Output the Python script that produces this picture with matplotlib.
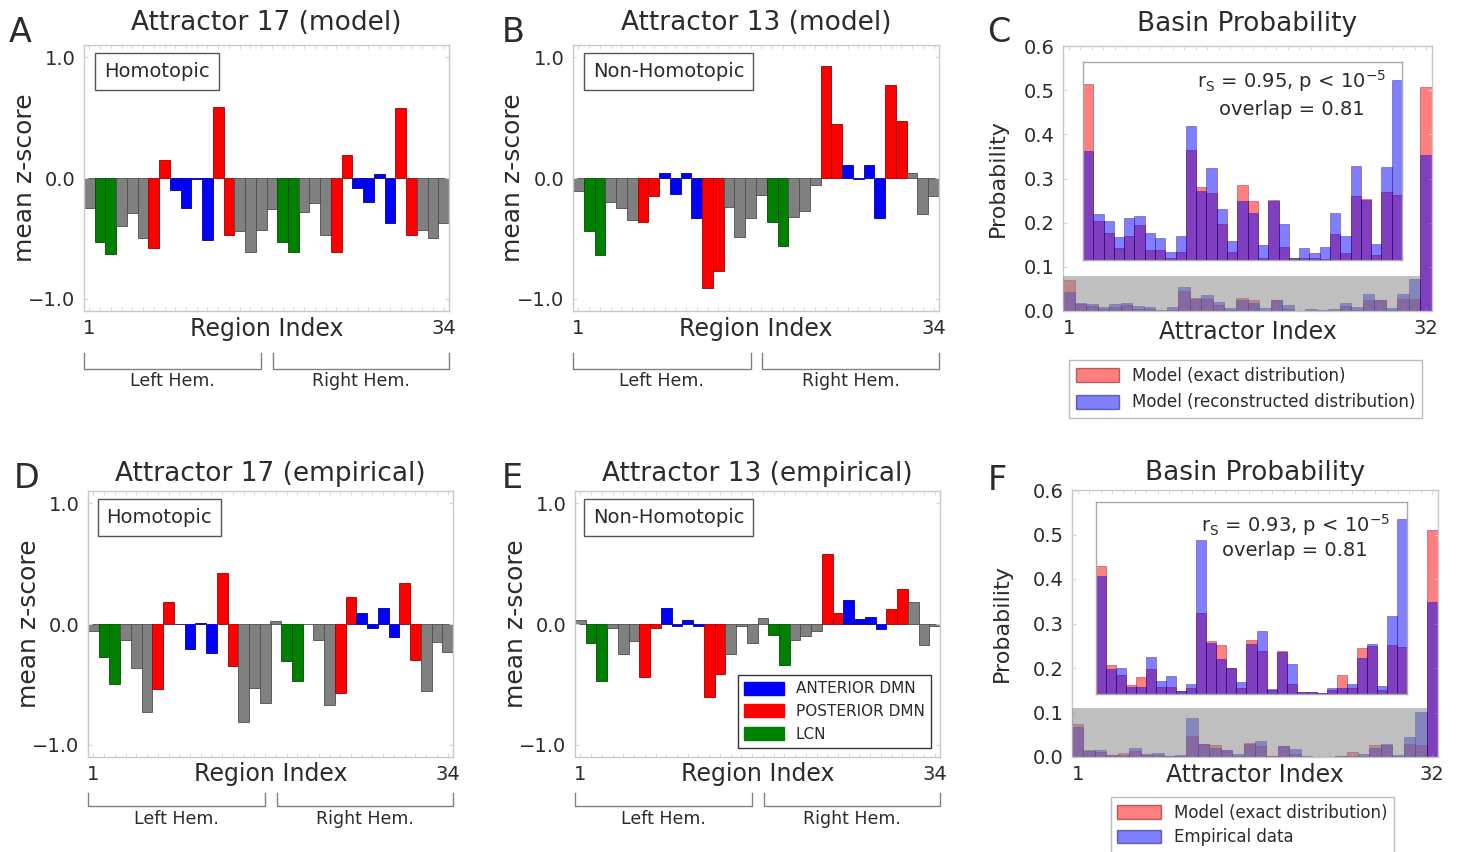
import matplotlib
matplotlib.use("Agg")
import matplotlib.pyplot as plt
import matplotlib.transforms as mtransforms
from matplotlib.patches import Patch, Rectangle
import numpy as np

# ---------------------------------------------------------------- data
# network membership of the 17 regions of one hemisphere (same order in both)
hemisphere_networks = ["OTHER", "LCN", "LCN", "OTHER", "OTHER", "OTHER",
                       "POSTERIOR DMN", "POSTERIOR DMN",
                       "ANTERIOR DMN", "ANTERIOR DMN", "ANTERIOR DMN", "ANTERIOR DMN",
                       "POSTERIOR DMN", "POSTERIOR DMN",
                       "OTHER", "OTHER", "OTHER"]
region_networks = hemisphere_networks + hemisphere_networks
network_colors = {"ANTERIOR DMN": "#0000ff", "POSTERIOR DMN": "#ff0000",
                  "LCN": "#008000", "OTHER": "#808080"}
legend_networks = ["ANTERIOR DMN", "POSTERIOR DMN", "LCN"]

attractor17_model = [-0.245, -0.53, -0.63, -0.40, -0.29, -0.50, -0.58, 0.15,
                     -0.10, -0.25, -0.005, -0.51, 0.59, -0.47, -0.44, -0.61,
                     -0.43, -0.26, -0.53, -0.61, -0.28, -0.21, -0.47, -0.61,
                     0.19, -0.08, -0.20, 0.03, -0.37, 0.58, -0.47, -0.43,
                     -0.50, -0.37]
attractor13_model = [-0.11, -0.44, -0.64, -0.20, -0.25, -0.35, -0.36, -0.15,
                     0.04, -0.13, 0.04, -0.33, -0.91, -0.77, -0.24, -0.49,
                     -0.33, -0.14, -0.36, -0.56, -0.32, -0.27, -0.06, 0.93,
                     0.45, 0.11, -0.005, 0.11, -0.33, 0.77, 0.47, 0.04,
                     -0.30, -0.15]
attractor17_empirical = [-0.055, -0.27, -0.50, -0.13, -0.36, -0.73, -0.54, 0.18,
                         0.003, -0.21, 0.01, -0.24, 0.42, -0.35, -0.81, -0.53,
                         -0.65, 0.025, -0.31, -0.47, -0.003, -0.13, -0.67, -0.57,
                         0.22, 0.09, -0.03, 0.13, -0.11, 0.34, -0.30, -0.55,
                         -0.15, -0.23]
attractor13_empirical = [0.035, -0.16, -0.47, -0.03, -0.25, -0.14, -0.44, -0.03,
                         0.135, -0.015, 0.035, -0.015, -0.60, -0.41, -0.245, -0.02,
                         -0.16, 0.05, -0.09, -0.34, -0.13, -0.10, -0.055, 0.58,
                         0.09, 0.20, 0.04, 0.06, -0.04, 0.12, 0.29, 0.18,
                         -0.17, -0.02]

basin_exact_c = [0.0708, 0.0158, 0.0109, 0.0049, 0.0097, 0.0141, 0.0042, 0.0039,
                 0.0007, 0.0032, 0.0445, 0.0293, 0.0270, 0.0147, 0.0032, 0.0303,
                 0.0239, 0.0008, 0.0240, 0.0054, 0.0009, 0.0008, 0.0009, 0.0005,
                 0.0104, 0.0027, 0.0259, 0.0246, 0.0020, 0.0273, 0.0262, 0.507]
basin_reconstructed = [0.0438, 0.0185, 0.0158, 0.0091, 0.0168, 0.0176, 0.0107, 0.0088,
                       0.0032, 0.0095, 0.0539, 0.0277, 0.0370, 0.0204, 0.0077, 0.0239,
                       0.0189, 0.0062, 0.0238, 0.0147, 0.0010, 0.0049, 0.0028, 0.0054,
                       0.0189, 0.0095, 0.0378, 0.0242, 0.0064, 0.0374, 0.0726, 0.353]
basin_exact_f = [0.0733, 0.0164, 0.0110, 0.0049, 0.0099, 0.0145, 0.0042, 0.0038,
                 0.0017, 0.0032, 0.0462, 0.0303, 0.0280, 0.0150, 0.0032, 0.0310,
                 0.0247, 0.0025, 0.0249, 0.0059, 0.0011, 0.0010, 0.0006, 0.0025,
                 0.0107, 0.0032, 0.0266, 0.0276, 0.0023, 0.0283, 0.0272, 0.509]
basin_empirical = [0.0677, 0.0143, 0.0147, 0.0042, 0.0038, 0.0213, 0.0072, 0.0101,
                   0.0019, 0.0055, 0.0885, 0.0295, 0.0200, 0.0148, 0.0069, 0.0285,
                   0.0362, 0.0030, 0.0242, 0.0171, 0.0013, 0.0011, 0.0004, 0.0032,
                   0.0032, 0.0059, 0.0206, 0.0287, 0.0048, 0.0450, 0.1001, 0.349]

# ---------------------------------------------------------------- style
TEXT = "#2b2b2b"
SPINE = "#c8c8c8"
plt.rcParams.update({
    "font.family": "DejaVu Sans",
    "text.color": TEXT,
    "axes.labelcolor": TEXT,
    "xtick.color": TEXT,
    "ytick.color": TEXT,
})

W, H = 1460, 852
fig = plt.figure(figsize=(W / 100, H / 100), dpi=100)


def px_axes(left, top, right, bottom):
    return fig.add_axes([left / W, 1 - bottom / H, (right - left) / W, (bottom - top) / H])


def frame(ax):
    for s in ax.spines.values():
        s.set_color(SPINE)
        s.set_linewidth(1.0)
    ax.tick_params(which="both", direction="in", length=3, color="#d8d8d8",
                   labelsize=14, pad=6, top=True, right=True)


def darker(c, f=0.6):
    rgb = np.array(matplotlib.colors.to_rgb(c))
    return tuple(rgb * f)


def region_panel(ax, values, title, tag, tag_x, hem_y, title_pad, xlab_y):
    n = len(values)
    x = np.arange(1, n + 1)
    cols = [network_colors[k] for k in region_networks]
    ax.bar(x, values, width=1.0, color=cols,
           edgecolor=[darker(c) for c in cols], linewidth=0.6)
    ax.set_xlim(0.5, n + 0.5)
    ax.set_ylim(-1.1, 1.1)
    ax.set_yticks([-1.0, 0.0, 1.0])
    ax.set_yticklabels(["\u22121.0", "0.0", "1.0"])
    ax.set_xticks([1, n])
    ax.set_xticks(x, minor=True)
    frame(ax)
    ax.set_title(title, fontsize=19, pad=title_pad)
    ax.set_ylabel("mean z-score", fontsize=18)
    ax.yaxis.set_label_coords(-0.13, 0.5)
    ax.set_xlabel("Region Index", fontsize=17)
    ax.xaxis.set_label_coords(0.5, xlab_y)
    ax.text(tag_x, 0.90, tag, transform=ax.transAxes, fontsize=14,
            ha="center", va="center",
            bbox=dict(boxstyle="square,pad=0.45", fc="white", ec="#555555", lw=1))
    # hemisphere brackets
    tr = mtransforms.blended_transform_factory(ax.transData, ax.transAxes)
    y_top, y_bot, y_txt = hem_y
    for (x0, x1), name in [((0.5, 17.0), "Left Hem."), ((18.1, n + 0.5), "Right Hem.")]:
        ax.plot([x0, x0, x1, x1], [y_top, y_bot, y_bot, y_top], color="#808080",
                lw=1.0, transform=tr, clip_on=False)
        ax.text((x0 + x1) / 2, y_txt, name, transform=tr, ha="center",
                va="center", fontsize=12.5)


def basin_panel(ax, exact, other, inset_box, stats, stat_xy, title_pad, xlab_y, ylab_x):
    n = len(exact)
    x = np.arange(1, n + 1)
    zoom_top = 1.1 * max(max(exact[:-1]), max(other[:-1]))
    ax.bar(x, exact, width=1.0, color="red", alpha=0.5, edgecolor=(0.35, 0, 0.2, 0.6),
           linewidth=0.5, zorder=1)
    ax.bar(x, other, width=1.0, color="blue", alpha=0.5, edgecolor=(0.15, 0, 0.4, 0.6),
           linewidth=0.5, zorder=2)
    # shaded band marking the attractors shown magnified in the inset
    ax.add_patch(Rectangle((0.5, 0.0), n - 1, zoom_top, facecolor="#8c8c8c",
                           alpha=0.55, edgecolor="none", zorder=3))
    ax.set_xlim(0.5, n + 0.5)
    ax.set_ylim(0, 0.6)
    ax.set_yticks(np.arange(0, 0.61, 0.1))
    ax.set_yticklabels([f"{v:.1f}" for v in np.arange(0, 0.61, 0.1)])
    ax.set_xticks([1, n])
    ax.set_xticks(x, minor=True)
    frame(ax)
    ax.set_title("Basin Probability", fontsize=19, pad=title_pad)
    ax.set_ylabel("Probability", fontsize=16)
    ax.yaxis.set_label_coords(ylab_x, 0.5)
    ax.set_xlabel("Attractor Index", fontsize=17)
    ax.xaxis.set_label_coords(0.5, xlab_y)

    # magnified view of the shaded low-probability attractors
    ins = px_axes(*inset_box)
    xi = x[:-1]
    ins.bar(xi, exact[:-1], width=1.0, color="red", alpha=0.5,
            edgecolor=(0.35, 0, 0.2, 0.6), linewidth=0.5)
    ins.bar(xi, other[:-1], width=1.0, color="blue", alpha=0.5,
            edgecolor=(0.15, 0, 0.4, 0.6), linewidth=0.5)
    ins.set_xlim(0.5, n - 0.5)
    ins.set_ylim(0, zoom_top)
    ins.set_xticks([])
    ins.set_yticks([])
    for s in ins.spines.values():
        s.set_color("#a8a8a8")
        s.set_linewidth(1.0)
    ins.text(stat_xy[0], stat_xy[1], stats[0], transform=ins.transAxes,
             ha="center", va="center", fontsize=14)
    ins.text(stat_xy[0], stat_xy[2], stats[1], transform=ins.transAxes,
             ha="center", va="center", fontsize=14)

    handles = [Patch(facecolor="red", alpha=0.5, edgecolor=(0.4, 0, 0, 0.8)),
               Patch(facecolor="blue", alpha=0.5, edgecolor=(0, 0, 0.4, 0.8))]
    return handles


# ---------------------------------------------------------------- panels
axA = px_axes(84, 45, 449, 311)
region_panel(axA, attractor17_model, "Attractor 17 (model)", "Homotopic", 0.20,
             (-0.158, -0.218, -0.263), 11, -0.022)
axB = px_axes(573, 45, 939, 311)
region_panel(axB, attractor13_model, "Attractor 13 (model)", "Non-Homotopic", 0.262,
             (-0.158, -0.218, -0.263), 11, -0.022)
axD = px_axes(88, 491, 453, 757)
region_panel(axD, attractor17_empirical, "Attractor 17 (empirical)", "Homotopic", 0.195,
             (-0.135, -0.184, -0.233), 7, -0.018)
axE = px_axes(575, 491, 940, 757)
region_panel(axE, attractor13_empirical, "Attractor 13 (empirical)", "Non-Homotopic", 0.256,
             (-0.135, -0.184, -0.233), 7, -0.018)
axE.legend(handles=[Patch(facecolor=network_colors[k], edgecolor=network_colors[k])
                    for k in legend_networks],
           labels=legend_networks, loc="lower right", fontsize=11,
           handlelength=2.6, handleheight=0.9, borderaxespad=0.6,
           fancybox=False, edgecolor="#333333", framealpha=1)

axC = px_axes(1063, 46, 1432, 311)
hC = basin_panel(axC, basin_exact_c, basin_reconstructed,
                 (1083, 62, 1402, 260),
                 (r"r$_\mathrm{S}$ = 0.95, p < 10$^{-5}$", "overlap = 0.81"),
                 (0.655, 0.905, 0.758), 11, -0.035, -0.15)
axC.legend(handles=hC, labels=["Model (exact distribution)",
                               "Model (reconstructed distribution)"],
           loc="upper center", bbox_to_anchor=(0.495, -0.155), fontsize=12,
           handlelength=2.6, handleheight=0.9, fancybox=False,
           edgecolor="#bbbbbb", framealpha=1)

axF = px_axes(1072, 490, 1438, 757)
hF = basin_panel(axF, basin_exact_f, basin_empirical,
                 (1096, 502, 1407, 694),
                 (r"r$_\mathrm{S}$ = 0.93, p < 10$^{-5}$", "overlap = 0.81"),
                 (0.64, 0.88, 0.75), 7, -0.022, -0.165)
axF.legend(handles=hF, labels=["Model (exact distribution)", "Empirical data"],
           loc="upper center", bbox_to_anchor=(0.493, -0.118), fontsize=12,
           handlelength=2.6, handleheight=0.9, labelspacing=0.4, fancybox=False,
           edgecolor="#bbbbbb", framealpha=1)

# panel letters
for letter, (lx, ly) in {"A": (20, 32), "B": (513, 32), "C": (999, 32),
                         "D": (27, 478), "E": (512, 478), "F": (997, 480)}.items():
    fig.text(lx / W, 1 - ly / H, letter, fontsize=24, ha="center", va="center")

fig.savefig("out.png", dpi=100, facecolor="white")
